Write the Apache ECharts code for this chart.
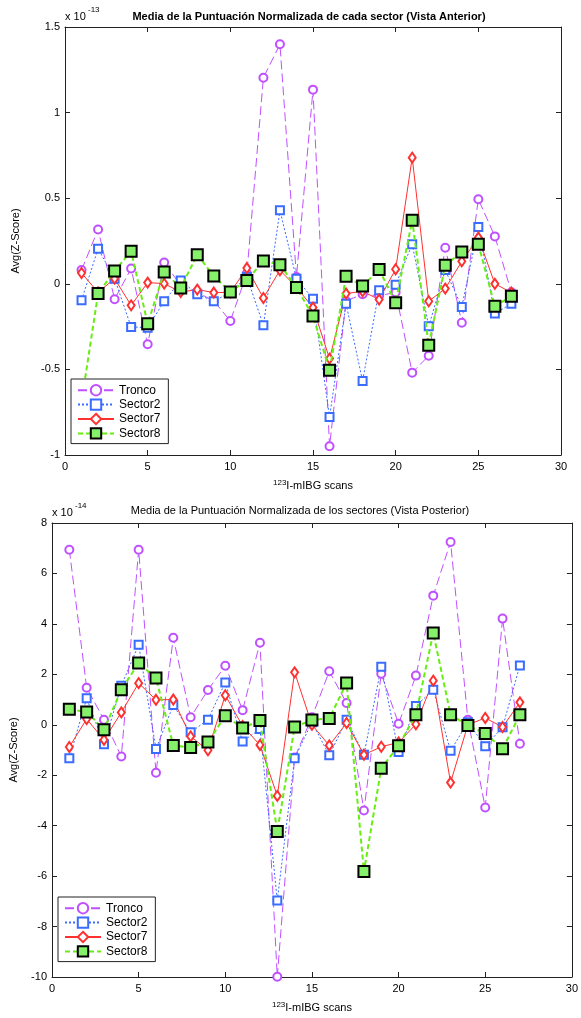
<!DOCTYPE html>
<html><head><meta charset="utf-8">
<script src="https://cdn.jsdelivr.net/npm/echarts@6/dist/echarts.min.js"></script>
<style>html,body{margin:0;padding:0;background:#fff}#c{width:581px;height:1018px}</style>
</head><body><div id="c"></div><script>
// ---------- DATA ----------
const scans = [1,2,3,4,5,6,7,8,9,10,11,12,13,14,15,16,17,18,19,20,21,22,23,24,25,26,27];
const seriesNames = ['Tronco','Sector2','Sector7','Sector8'];
const xTicks = ['0','5','10','15','20','25','30'];
// Anterior (x 10^-13)
const antTronco  = [0.08,0.317,-0.09,0.089,-0.353,0.124,-0.01,-0.05,-0.1,-0.217,0.06,1.204,1.399,0.04,1.134,-0.949,-0.1,-0.061,-0.07,-0.05,-0.519,-0.42,0.211,-0.227,0.494,0.277,-0.05];
const antSector2 = [-0.096,0.205,0.03,-0.252,-0.256,-0.102,0.02,-0.061,-0.102,-0.05,0.04,-0.242,0.429,0.03,-0.087,-0.778,-0.116,-0.568,-0.038,-0.005,0.231,-0.248,0.08,-0.135,0.332,-0.174,-0.116];
const antSector7 = [0.063,-0.05,0.03,-0.126,0.007,0.001,-0.048,-0.034,-0.051,-0.05,0.092,-0.083,0.079,-0.02,-0.139,-0.437,-0.057,-0.044,-0.092,0.085,0.737,-0.102,-0.028,0.131,0.27,0.0,-0.051];
const antSector8 = [-0.69,-0.057,0.075,0.19,-0.233,0.069,-0.024,0.17,0.046,-0.048,0.02,0.133,0.112,-0.022,-0.188,-0.505,0.044,-0.013,0.083,-0.11,0.371,-0.359,0.108,0.186,0.231,-0.131,-0.073];
// Posterior (x 10^-14)
const postTronco  = [6.94,1.47,0.2,-1.26,6.94,-1.9,3.45,0.3,1.38,2.34,0.58,3.25,-9.99,-1.3,0.3,2.12,0.86,-3.4,2.02,0.04,1.95,5.12,7.25,0.2,-3.28,4.21,-0.75];
const postSector2 = [-1.33,1.05,-0.77,1.55,3.17,-0.96,0.78,-0.3,0.2,1.68,-0.66,-0.17,-6.97,-1.33,0.1,-1.21,0.2,-1.19,2.3,-1.08,0.74,1.39,-1.03,0.1,-0.85,-0.1,2.35];
const postSector7 = [-0.88,0.23,-0.6,0.49,1.65,0.99,1.0,-0.46,-1.01,1.17,-0.05,-0.8,-2.82,2.08,0.0,-0.82,0.07,-1.19,-0.87,-0.7,0.02,1.75,-2.29,0.0,0.27,-0.09,0.89];
const postSector8 = [0.62,0.51,-0.2,1.39,2.45,1.85,-0.82,-0.9,-0.68,0.36,-0.13,0.17,-4.23,-0.09,0.19,0.25,1.66,-5.82,-1.72,-0.83,0.4,3.64,0.4,-0.03,-0.35,-0.95,0.4];
const antTicksY  = ['-1','-0.5','0','0.5','1','1.5'];
const postTicksY = ['-10','-8','-6','-4','-2','0','2','4','6','8'];

// ---------- STYLE ----------
const FONT = 'Liberation Sans, Arial, sans-serif';
const styles = {
  Tronco:  {color:'#c050ff', symbol:'emptyCircle', symbolSize:8, line:{width:1, type:[9,4]}},
  Sector2: {color:'#3a6cff', symbol:'emptyRect', symbolSize:8, line:{width:1, type:[2,2]}},
  Sector7: {color:'#ff3030', symbol:'emptyDiamond', symbolSize:[7,10], line:{width:1, type:'solid'}},
  Sector8: {color:'#66ee11', symbol:'rect', symbolSize:11, line:{width:2, type:[5,3]}}
};
function pairs(arr){ return scans.map((s,i)=>[s,arr[i]]); }
function mkSeries(name, arr, gi){
  const st = styles[name];
  const s = {
    name, type:'line', xAxisIndex:gi*2, yAxisIndex:gi*2, data:pairs(arr),
    symbol:st.symbol, symbolSize:st.symbolSize, showAllSymbol:true,
    lineStyle:{color:st.color, width:st.line.width, type:st.line.type},
    itemStyle:{color:st.color, borderColor:st.color, borderWidth:1},
    emphasis:{disabled:true}, animation:false, z: name==='Sector8'?3:2
  };
  if (name==='Sector8') s.itemStyle = {color:'#86f06a', borderColor:'#000', borderWidth:2};
  return s;
}
const axisLabel = {color:'#000', fontFamily:FONT, fontSize:11};
const axLine = {show:true, onZero:false, lineStyle:{color:'#222'}};
const axTick = {show:true, inside:true, length:5, lineStyle:{color:'#222'}};
function xAxes(gi){
  return [
    {type:'value', gridIndex:gi, min:0, max:30, interval:5, position:'bottom',
     axisLine:axLine, axisTick:axTick,
     axisLabel:Object.assign({margin:6}, axisLabel), splitLine:{show:false},
     name:'{s|123}{n|I-mIBG scans}', nameLocation:'middle', nameGap: 24,
     nameTextStyle:{rich:{s:{fontSize:8, verticalAlign:'top', fontFamily:FONT, color:'#000', padding:[0,0,6,0]}, n:{fontSize:11, fontFamily:FONT, color:'#000'}}}},
    {type:'value', gridIndex:gi, min:0, max:30, interval:5, position:'top',
     axisLine:axLine, axisTick:axTick,
     axisLabel:{show:false}, splitLine:{show:false}}
  ];
}
function yAxes(gi, min, max, interval, gap){
  return [
    {type:'value', gridIndex:gi, min, max, interval, position:'left',
     axisLine:axLine, axisTick:axTick,
     axisLabel:Object.assign({margin:5}, axisLabel), splitLine:{show:false},
     name:'Avg(Z-Score)', nameLocation:'middle', nameRotate:90, nameGap:gap,
     nameTextStyle:{fontFamily:FONT, fontSize:11, color:'#000'}},
    {type:'value', gridIndex:gi, min, max, interval, position:'right',
     axisLine:axLine, axisTick:axTick,
     axisLabel:{show:false}, splitLine:{show:false}}
  ];
}
function legend(left, top){
  return {orient:'vertical', left, top, data:seriesNames, itemWidth:36, itemHeight:13, itemGap:2, z:10,
    padding:[5,8,4,6], backgroundColor:'#fff', borderColor:'#222', borderWidth:1,
    textStyle:{fontFamily:FONT, fontSize:12, color:'#000'}, selectedMode:false};
}
const option = {
  backgroundColor:'#fff', animation:false,
  title:[
    {text:'Media de la Puntuación Normalizada de cada sector (Vista Anterior)', left:304, top:6, textAlign:'center',
     textStyle:{fontFamily:FONT, fontSize:11, fontWeight:'bold', color:'#000'}},
    {text:'Media de la Puntuación Normalizada de los sectores (Vista Posterior)', left:295, top:500, textAlign:'center',
     textStyle:{fontFamily:FONT, fontSize:11, fontWeight:'normal', color:'#000'}}
  ],
  grid:[
    {left:65, top:27, width:496, height:428, show:false},
    {left:52, top:523, width:522, height:454, show:false}
  ],
  xAxis:[...xAxes(0), ...xAxes(1)],
  yAxis:[...yAxes(0,-1,1.5,0.5,44), ...yAxes(1,-10,8,2,33)],
  legend:[legend(71,379), legend(58,897)],
  graphic:[
    {type:'text', left:65, top:11, style:{text:'x 10', font:'11px '+FONT, fill:'#000'}},
    {type:'text', left:88, top:6, style:{text:'-13', font:'8px '+FONT, fill:'#000'}},
    {type:'text', left:52, top:507, style:{text:'x 10', font:'11px '+FONT, fill:'#000'}},
    {type:'text', left:75, top:502, style:{text:'-14', font:'8px '+FONT, fill:'#000'}}
  ],
  series:[
    mkSeries('Tronco', antTronco, 0), mkSeries('Sector2', antSector2, 0), mkSeries('Sector7', antSector7, 0), mkSeries('Sector8', antSector8, 0),
    mkSeries('Tronco', postTronco, 1), mkSeries('Sector2', postSector2, 1), mkSeries('Sector7', postSector7, 1), mkSeries('Sector8', postSector8, 1)
  ]
};
const chart = echarts.init(document.getElementById('c'), null, {renderer:'canvas'});
chart.setOption(option);
</script></body></html>
